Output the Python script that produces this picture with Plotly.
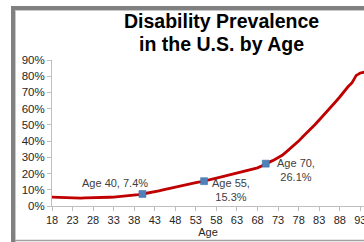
import plotly.graph_objects as go

ages = list(range(18, 96))
prevalence = [5.5, 5.4, 5.2, 5.0, 4.9, 4.8, 4.8, 4.9, 5.0, 5.0, 5.1, 5.0, 5.1, 5.3, 5.4, 5.5,
              5.7, 6.0, 6.2, 6.5, 6.8, 7.0, 7.4, 7.8, 8.3, 8.7, 9.3, 10.0, 10.6, 11.2, 11.8,
              12.3, 12.9, 13.4, 13.9, 14.4, 14.8, 15.3, 15.9, 16.6, 17.2, 17.8, 18.4, 19.0,
              19.8, 20.5, 20.8, 21.3, 22.0, 22.7, 23.5, 24.6, 26.1, 27.2, 28.4, 29.6, 31.3,
              33.4, 35.6, 37.6, 40.0, 42.7, 45.0, 47.5, 50.2, 53.0, 56.0, 58.8, 61.5, 64.3,
              67.2, 70.5, 73.5, 76.0, 80.5, 82.0, 82.5, 83.0]

marker_ages = [40, 55, 70]
marker_vals = [7.4, 15.3, 26.1]
marker_labels = ["Age 40, 7.4%", "Age 55,<br>15.3%", "Age 70,<br>26.1%"]
label_shifts = [(-27, 11), (27, -9), (30, -6)]

tick_vals = list(range(18, 94, 5))
y_ticks = list(range(0, 91, 10))

FONT = "Arial, Liberation Sans, sans-serif"

fig = go.Figure()
fig.add_trace(go.Scatter(x=ages, y=prevalence, mode="lines",
                         line=dict(color="#C00000", width=2.8), showlegend=False,
                         hoverinfo="skip"))
fig.add_trace(go.Scatter(x=marker_ages, y=marker_vals, mode="markers",
                         marker=dict(symbol="square", color="#4F81BD", size=7,
                                     line=dict(color="#3A6EA5", width=0.5)),
                         showlegend=False))

for a, v, t, (dx, dy) in zip(marker_ages, marker_vals, marker_labels, label_shifts):
    fig.add_annotation(x=a, y=v, text=t, showarrow=False, xshift=dx, yshift=dy,
                       xanchor="center", yanchor="middle",
                       font=dict(family=FONT, size=11, color="#404040"), align="center")

def px(xp):
    return (xp - 52) / 312

def py(yp):
    return (206 - yp) / 146

# title
fig.add_annotation(xref="paper", yref="paper", x=px(221), y=py(21.5),
                   xanchor="center", yanchor="middle",
                   text="<b>Disability Prevalence</b>", showarrow=False,
                   font=dict(family=FONT, size=19.5, color="#000000"))
fig.add_annotation(xref="paper", yref="paper", x=px(221), y=py(44),
                   xanchor="center", yanchor="middle",
                   text="<b>in the U.S. by Age</b>", showarrow=False,
                   font=dict(family=FONT, size=19.5, color="#000000"))

# frame
fig.add_shape(type="line", xref="paper", yref="paper", x0=px(13), x1=px(13), y0=py(6), y1=py(250),
              line=dict(color="#808080", width=4))
fig.add_shape(type="line", xref="paper", yref="paper", x0=px(11), x1=px(380), y0=py(8), y1=py(8),
              line=dict(color="#808080", width=4))
fig.add_shape(type="line", xref="paper", yref="paper", x0=px(15.5), x1=px(15.5), y0=py(10), y1=py(250),
              line=dict(color="#c8c8c8", width=1))
fig.add_shape(type="line", xref="paper", yref="paper", x0=px(15), x1=px(380), y0=py(10.5), y1=py(10.5),
              line=dict(color="#c8c8c8", width=1))
fig.add_shape(type="line", xref="paper", yref="paper", x0=px(15), x1=px(380), y0=py(240.5), y1=py(240.5),
              line=dict(color="#a0a0a0", width=1.5))

fig.update_layout(
    width=364, height=242,
    margin=dict(l=52, r=0, t=60, b=36, autoexpand=False),
    paper_bgcolor="white", plot_bgcolor="white",
    font=dict(family=FONT, size=11, color="#262626"),
    xaxis=dict(range=[18, 93.9], tickvals=tick_vals, ticktext=[str(v) for v in tick_vals],
               showgrid=False, zeroline=False, showline=True, linecolor="#bfbfbf", linewidth=1,
               ticks="outside", ticklen=4, tickcolor="#bfbfbf", automargin=False,
               ticklabeloverflow="allow",
               tickfont=dict(family=FONT, size=11, color="#262626"),
               title=dict(text="Age", font=dict(family=FONT, size=11, color="#262626"), standoff=2)),
    yaxis=dict(range=[0, 90], tickvals=y_ticks, ticktext=[f"{v}%" for v in y_ticks],
               showgrid=False, zeroline=False, showline=True, linecolor="#bfbfbf", linewidth=1,
               ticks="outside", ticklen=4, tickcolor="#bfbfbf", automargin=False,
               tickfont=dict(family=FONT, size=11.5, color="#262626")),
)

fig.write_html("out.html", config={"displayModeBar": False},
               post_script="document.body.style.margin='0';document.body.style.padding='0';")
